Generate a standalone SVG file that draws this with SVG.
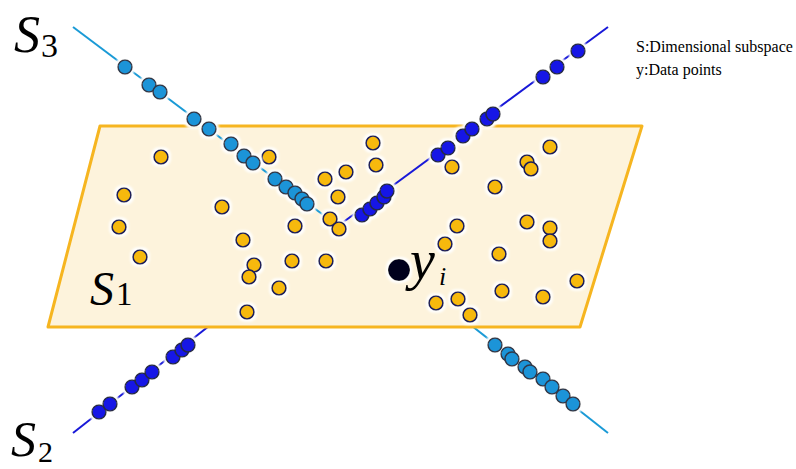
<svg xmlns="http://www.w3.org/2000/svg" width="796" height="469" viewBox="0 0 796 469">
<style>
.yd{fill:#f7b90c;stroke:#1c1f5c;stroke-width:1.7}
.lb{fill:#1b94d8;stroke:#30384a;stroke-width:1.6}
.db{fill:#1212e6;stroke:#262b4a;stroke-width:1.6}
.ln1{stroke:#1a9ad6;stroke-width:2;fill:none}
.ln2{stroke:#1818d8;stroke-width:2;fill:none}
.lbl{font-family:"Liberation Serif",serif;fill:#000}
.leg{font-family:"Liberation Serif",serif;font-size:16px;fill:#000}
</style>
<defs>
<filter id="halo" x="-50%" y="-50%" width="200%" height="200%">
<feMorphology in="SourceAlpha" operator="dilate" radius="2" result="d"/>
<feGaussianBlur in="d" stdDeviation="1.3" result="b"/>
<feFlood flood-color="#ffffff"/>
<feComposite in2="b" operator="in" result="w"/>
<feMerge><feMergeNode in="w"/><feMergeNode in="SourceGraphic"/></feMerge>
</filter>
</defs>
<rect width="796" height="469" fill="#ffffff"/>

<g id="connectors-back">
<line class="ln2" x1="73" y1="433" x2="209" y2="326"/>
<line class="ln1" x1="472" y1="326" x2="608" y2="433"/>
</g>

<g id="plane-S1">
<polygon points="100,126 642,126 580,327 48,327" fill="#fdf3dc" stroke="#f6b520" stroke-width="3" stroke-linejoin="round"/>
</g>

<g id="connectors">
<line class="ln1" x1="73" y1="27" x2="338" y2="226"/>
<line class="ln2" x1="338" y1="226" x2="608" y2="27"/>
</g>

<g id="data-points-S1" filter="url(#halo)">
<circle class="yd" cx="161" cy="157" r="7"/>
<circle class="yd" cx="124" cy="195" r="7"/>
<circle class="yd" cx="119" cy="227" r="7"/>
<circle class="yd" cx="140" cy="257" r="7"/>
<circle class="yd" cx="222" cy="207" r="7"/>
<circle class="yd" cx="243" cy="240" r="7"/>
<circle class="yd" cx="254" cy="265" r="7"/>
<circle class="yd" cx="249" cy="277" r="7"/>
<circle class="yd" cx="279" cy="288" r="7"/>
<circle class="yd" cx="247" cy="312" r="7"/>
<circle class="yd" cx="295" cy="226" r="7"/>
<circle class="yd" cx="292" cy="261" r="7"/>
<circle class="yd" cx="326" cy="261" r="7"/>
<circle class="yd" cx="269" cy="157" r="7"/>
<circle class="yd" cx="325" cy="179" r="7"/>
<circle class="yd" cx="346" cy="172" r="7"/>
<circle class="yd" cx="338" cy="197" r="7"/>
<circle class="yd" cx="373" cy="143" r="7"/>
<circle class="yd" cx="376" cy="165" r="7"/>
<circle class="yd" cx="330" cy="219" r="7"/>
<circle class="yd" cx="339" cy="229" r="7"/>
<circle class="yd" cx="452" cy="167" r="7"/>
<circle class="yd" cx="495" cy="187" r="7"/>
<circle class="yd" cx="527" cy="162" r="7"/>
<circle class="yd" cx="531" cy="169" r="7"/>
<circle class="yd" cx="550" cy="147" r="7"/>
<circle class="yd" cx="457" cy="226" r="7"/>
<circle class="yd" cx="445" cy="244" r="7"/>
<circle class="yd" cx="527" cy="222" r="7"/>
<circle class="yd" cx="550" cy="228" r="7"/>
<circle class="yd" cx="550" cy="241" r="7"/>
<circle class="yd" cx="499" cy="254" r="7"/>
<circle class="yd" cx="577" cy="281" r="7"/>
<circle class="yd" cx="502" cy="291" r="7"/>
<circle class="yd" cx="543" cy="297" r="7"/>
<circle class="yd" cx="436" cy="303" r="7"/>
<circle class="yd" cx="458" cy="299" r="7"/>
<circle class="yd" cx="470" cy="315" r="7"/>
</g>

<g id="data-points-S3" filter="url(#halo)">
<circle class="lb" cx="125" cy="67" r="7"/>
<circle class="lb" cx="149" cy="85" r="7"/>
<circle class="lb" cx="160" cy="92" r="7"/>
<circle class="lb" cx="194" cy="119" r="7"/>
<circle class="lb" cx="209" cy="129" r="7"/>
<circle class="lb" cx="231" cy="144" r="7"/>
<circle class="lb" cx="244" cy="156" r="7"/>
<circle class="lb" cx="253" cy="163" r="7"/>
<circle class="lb" cx="275" cy="179" r="7"/>
<circle class="lb" cx="286" cy="187" r="7"/>
<circle class="lb" cx="295" cy="193" r="7"/>
<circle class="lb" cx="302" cy="199" r="7"/>
<circle class="lb" cx="307" cy="204" r="7"/>
<circle class="lb" cx="495" cy="345" r="7"/>
<circle class="lb" cx="508" cy="354" r="7"/>
<circle class="lb" cx="512" cy="359" r="7"/>
<circle class="lb" cx="525" cy="367" r="7"/>
<circle class="lb" cx="530" cy="372" r="7"/>
<circle class="lb" cx="543" cy="379" r="7"/>
<circle class="lb" cx="552" cy="387" r="7"/>
<circle class="lb" cx="563" cy="396" r="7"/>
<circle class="lb" cx="573" cy="404" r="7"/>
</g>

<g id="data-points-S2" filter="url(#halo)">
<circle class="db" cx="362" cy="215" r="7"/>
<circle class="db" cx="370" cy="209" r="7"/>
<circle class="db" cx="377" cy="203" r="7"/>
<circle class="db" cx="384" cy="197" r="7"/>
<circle class="db" cx="387" cy="191" r="7"/>
<circle class="db" cx="438" cy="155" r="7"/>
<circle class="db" cx="448" cy="148" r="7"/>
<circle class="db" cx="463" cy="136" r="7"/>
<circle class="db" cx="472" cy="129" r="7"/>
<circle class="db" cx="487" cy="119" r="7"/>
<circle class="db" cx="493" cy="114" r="7"/>
<circle class="db" cx="543" cy="77" r="7"/>
<circle class="db" cx="557" cy="67" r="7"/>
<circle class="db" cx="578" cy="51" r="7"/>
<circle class="db" cx="99" cy="412" r="7"/>
<circle class="db" cx="110" cy="404" r="7"/>
<circle class="db" cx="132" cy="387" r="7"/>
<circle class="db" cx="142" cy="380" r="7"/>
<circle class="db" cx="152" cy="372" r="7"/>
<circle class="db" cx="173" cy="357" r="7"/>
<circle class="db" cx="182" cy="350" r="7"/>
<circle class="db" cx="188" cy="345" r="7"/>
</g>

<g id="point-yi">
<circle cx="399" cy="270" r="11" fill="#05051a" filter="url(#halo)"/>
<text class="lbl" x="410" y="279" font-size="56" font-style="italic">y</text>
<text class="lbl" x="439" y="285" font-size="26" font-style="italic">i</text>
</g>

<g id="labels">
<text class="lbl" x="14" y="52" font-size="52" font-style="italic">S</text>
<text class="lbl" x="41" y="57" font-size="34">3</text>
<text class="lbl" x="90" y="305" font-size="48" font-style="italic">S</text>
<text class="lbl" x="116" y="305" font-size="33">1</text>
<text class="lbl" x="11" y="456" font-size="50" font-style="italic">S</text>
<text class="lbl" x="38" y="462" font-size="30">2</text>
</g>

<g id="legend">
<text class="leg" x="636" y="52">S:Dimensional subspace</text>
<text class="leg" x="636" y="75">y:Data points</text>
</g>
</svg>
